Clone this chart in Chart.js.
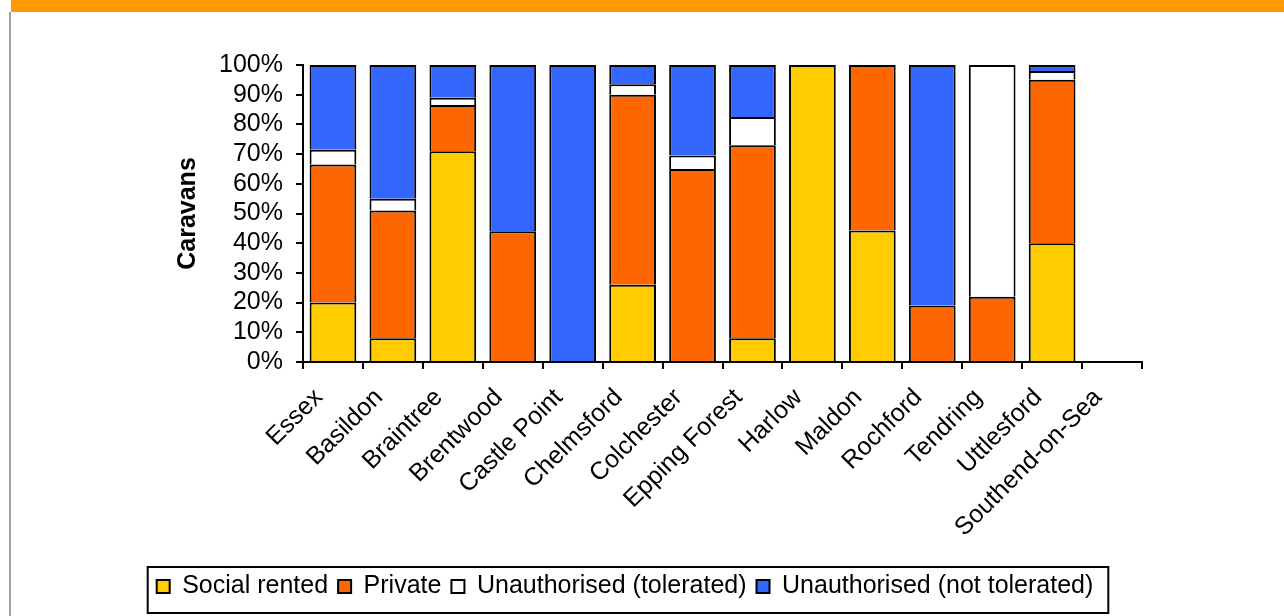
<!DOCTYPE html>
<html>
<head>
<meta charset="utf-8">
<script src="https://cdn.jsdelivr.net/npm/chart.js@4.4.1/dist/chart.umd.min.js"></script>
<style>
  html, body { margin: 0; padding: 0; background: #fff; }
  #band { position: absolute; left: 11px; top: 0; width: 1273px; height: 12px; background: #ff9900; }
  #edge { position: absolute; left: 9px; top: 12px; width: 2px; height: 604px; background: #a0a0a0; }
  #wrap { position: absolute; left: 0; top: 0; width: 1284px; height: 616px; }
</style>
</head>
<body>
<div id="band"></div>
<div id="edge"></div>
<div id="wrap"><canvas id="chart"></canvas></div>
<script>
const districts = [
  "Essex", "Basildon", "Braintree", "Brentwood", "Castle Point", "Chelmsford",
  "Colchester", "Epping Forest", "Harlow", "Maldon", "Rochford", "Tendring",
  "Uttlesford", "Southend-on-Sea"
];

// share of caravans in % (Southend-on-Sea has no bar)
const socialRented = [20, 8, 71, 0, 0, 26, 0, 8, 100, 44.3, 0, 0, 40, null];
const privateSites = [46.5, 43, 15.5, 44, 0, 64, 65, 65, 0, 55.7, 19, 22, 55, null];
const tolerated = [5, 4, 2.5, 0, 0, 3.5, 4.5, 9.5, 0, 0, 0, 78, 3, null];
const notTolerated = [28.5, 45, 11, 56, 100, 6.5, 30.5, 17.5, 0, 0, 81, 0, 2, null];

const yTicks = [0, 10, 20, 30, 40, 50, 60, 70, 80, 90, 100];

const FONT = "'Liberation Sans', Arial, sans-serif";

// draws the black frame round the legend items
const legendFrame = {
  id: "legendFrame",
  afterDraw(chart) {
    const boxes = chart.legend && chart.legend.legendHitBoxes;
    if (!boxes || !boxes.length) return;
    const left = Math.min(...boxes.map(b => b.left)) - 9;
    const right = Math.max(...boxes.map(b => b.left + b.width)) + 15;
    const top = boxes[0].top - 7;
    const bottom = boxes[0].top + boxes[0].height + 14;
    const ctx = chart.ctx;
    ctx.save();
    ctx.strokeStyle = "#000";
    ctx.lineWidth = 2;
    ctx.strokeRect(left, top, right - left, bottom - top);
    ctx.restore();
  }
};

// no outline for empty segments, but keep it for the legend swatch
const edge = c => (c.type === "data" && !c.raw) ? 0 : 2;

const makeSet = (label, data, colour) => ({
  label,
  data,
  backgroundColor: colour,
  borderColor: "#000",
  borderWidth: edge,
  borderSkipped: "start",
  barPercentage: 0.78,
  categoryPercentage: 1
});

new Chart(document.getElementById("chart"), {
  type: "bar",
  data: {
    labels: districts,
    datasets: [
      makeSet("Social rented", socialRented, "#ffcc00"),
      makeSet("Private", privateSites, "#ff6600"),
      makeSet("Unauthorised (tolerated)", tolerated, "#ffffff"),
      makeSet("Unauthorised (not tolerated)", notTolerated, "#3366ff")
    ]
  },
  options: {
    responsive: true,
    maintainAspectRatio: false,
    animation: false,
    layout: { padding: { left: 108, right: 142, top: 65, bottom: 7 } },
    plugins: {
      tooltip: { enabled: false },
      legend: {
        position: "bottom",
        labels: {
          color: "#000",
          font: { family: FONT, size: 25 },
          boxWidth: 13,
          boxHeight: 13,
          padding: 10
        }
      }
    },
    scales: {
      x: {
        stacked: true,
        offset: true,
        grid: { offset: true, drawOnChartArea: false, drawTicks: true, tickLength: 7, color: "#000", lineWidth: 2 },
        border: { display: true, color: "#000", width: 2 },
        ticks: {
          color: "#000",
          font: { family: FONT, size: 25 },
          minRotation: 45,
          maxRotation: 45,
          autoSkip: false,
          padding: 14,
          labelOffset: -14
        },
        afterFit(scale) { scale.height = 202; }
      },
      y: {
        stacked: true,
        min: 0,
        max: 100,
        afterBuildTicks(scale) { scale.ticks = yTicks.map(v => ({ value: v })); },
        grid: { drawOnChartArea: false, drawTicks: true, tickLength: 7, color: "#000", lineWidth: 2 },
        border: { display: true, color: "#000", width: 2 },
        ticks: {
          color: "#000",
          font: { family: FONT, size: 25 },
          padding: 13,
          autoSkip: false,
          callback: v => v + "%"
        },
        title: {
          display: true,
          text: "Caravans",
          color: "#000",
          font: { family: FONT, size: 25, weight: "bold" },
          padding: { top: 65, bottom: 0 }
        },
        afterFit(scale) { scale.width = 195; }
      }
    }
  },
  plugins: [legendFrame]
});
</script>
</body>
</html>
